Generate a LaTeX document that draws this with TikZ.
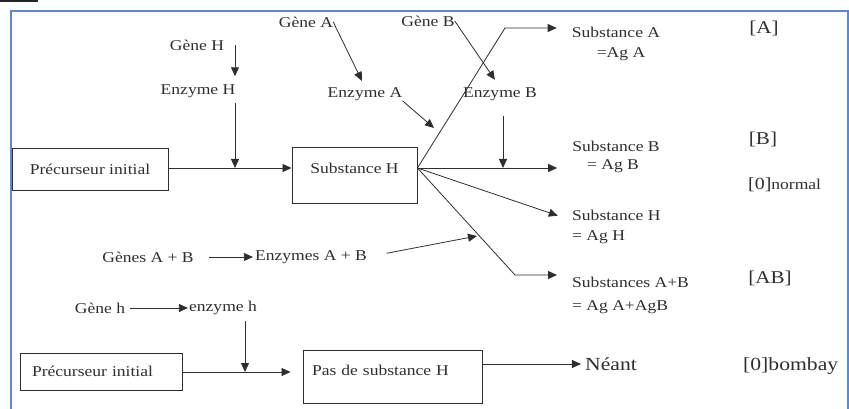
\documentclass[tikz,border=0pt]{standalone}
\usepackage{fontspec}
\setmainfont[FakeStretch=1.17]{Liberation Serif}
\usetikzlibrary{arrows.meta,calc}
\definecolor{ink}{HTML}{2E2E2E}
\definecolor{framec}{HTML}{5A8AD0}
\begin{document}
\begin{tikzpicture}[x=1pt,y=-1pt,
  txt/.style={inner sep=0pt, text=ink, font=\fontsize{15}{18}\selectfont},
  big/.style={inner sep=0pt, text=ink, font=\fontsize{18}{21}\selectfont},
  box/.style={draw=ink, line width=0.9pt, inner sep=0pt, text=ink, font=\fontsize{15}{18}\selectfont},
  arr/.style={draw=ink, line width=0.8pt, -{Triangle[length=9pt,width=8pt]}},
  ln/.style={draw=ink, line width=0.8pt}]
\useasboundingbox (0,0) rectangle (849,409);
% frame
\fill[black!85] (0,0) rectangle (38,2);
\draw[framec, line width=2pt] (10.5,409) -- (10.5,11) -- (847.5,11) -- (847.5,409);

% upper pathway
\node[txt] (gH) at (197,45) {Gène H};
\node[txt] (eH) at (198,91) {Enzyme H};
\node[txt] (gA) at (306,22) {Gène A};
\node[txt] (eA) at (365,94) {Enzyme A};
\node[txt] (gB) at (428,21) {Gène B};
\node[txt] (eB) at (500,94) {Enzyme B};
\node[box, minimum width=156pt, minimum height=42pt] (p1) at (90,169) {Précurseur initial};
\node[box, minimum width=125pt, minimum height=56pt, text height=11pt, text depth=14pt] (sH) at (354.5,175) {Substance H};

\coordinate (jH) at (235,168);
\coordinate (jB) at (503,168);
\coordinate (o) at ($(sH.east)+(0,-7)$);
\coordinate (bA) at (505,28);
\coordinate (kA) at (434,128);
\coordinate (bAB) at (515,275);
\coordinate (kAB) at (477,236);

% right labels
\node[txt] (sA) at (616,32) {Substance A};
\node[txt] (sA2) at (621,54) {=Ag A};
\node[txt] (sB) at (616,146) {Substance B};
\node[txt] (sB2) at (613,166) {= Ag B};
\node[txt, anchor=west] (sH1) at (572,215) {Substance H};
\node[txt, anchor=west] (sH2) at (572,237) {= Ag H};
\node[txt, anchor=west] (sAB) at (572,282) {Substances A+B};
\node[txt, anchor=west] (sAB2) at (572,307) {= Ag A+AgB};

\node[big] (lA) at (764,28) {[A]};
\node[big] (lB) at (763,139) {[B]};
\node[txt, anchor=west] (l0) at (748,185) {{\fontsize{17}{20}\selectfont[0]}normal};
\node[big] (lAB) at (770,278) {[AB]};

% lower part
\node[txt] (gAB) at (148,257) {Gènes A + B};
\node[txt] (eAB) at (311,257) {Enzymes A + B};
\node[txt] (gh) at (100,308) {Gène h};
\node[txt] (eh) at (223,308) {enzyme h};
\coordinate (jh) at (245,372);
\node[box, minimum width=162pt, minimum height=37pt, inner xsep=12pt, text width=138pt, align=left] (p2) at (101,371.5) {Précurseur initial};
\node[box, minimum width=179pt, minimum height=53pt, inner xsep=9pt, text width=161pt, align=left, text height=11pt, text depth=13pt] (pS) at (392.5,376.5) {Pas de substance H};
\node[big, font=\fontsize{18.5}{21}\selectfont] (ne) at (611,364) {Néant};
\node[big, font=\fontsize{18.5}{21}\selectfont, anchor=west] (lbo) at (743,366) {[0]bombay};

% connectors
\draw[arr, shorten >=8pt] (gH.east -| jH) -- (eH.north -| jH);
\draw[arr, shorten <=5pt] (eH.south -| jH) -- (jH);
\draw[arr] (p1.east |- jH) -- (sH.west |- jH);
\draw[arr, shorten >=7pt] (gA.east) -- (eA.north);
\draw[arr] (eA.south east) -- (kA);
\draw[arr, shorten >=9pt] (gB.east) -- (eB.north);
\draw[arr, shorten <=15pt] (eB.south -| jB) -- (jB);

\draw[arr, shorten >=15pt] (o) -- (bA) -- (sA.west |- bA);
\draw[arr, shorten >=15pt] (o) -- (sB.west |- o);
\draw[arr, shorten >=15pt] (o) -- (sH1.south west);
\draw[arr, shorten >=15pt] (o) -- (bAB) -- (sAB.west |- bAB);

\draw[arr, shorten <=15pt, shorten >=2pt] (gAB.east) -- (eAB.west);
\draw[arr, shorten <=20pt] (eAB.east) -- (kAB);
\draw[arr, shorten <=5pt, shorten >=1pt] (gh.east) -- (eh.west);
\draw[arr, shorten <=6pt] (eh.south -| jh) -- (jh);
\draw[arr, shorten >=12pt] (p2.east |- jh) -- (pS.west |- jh);
\draw[arr, shorten >=4pt] (pS.east |- ne.west) -- (ne.west);
\end{tikzpicture}
\end{document}
